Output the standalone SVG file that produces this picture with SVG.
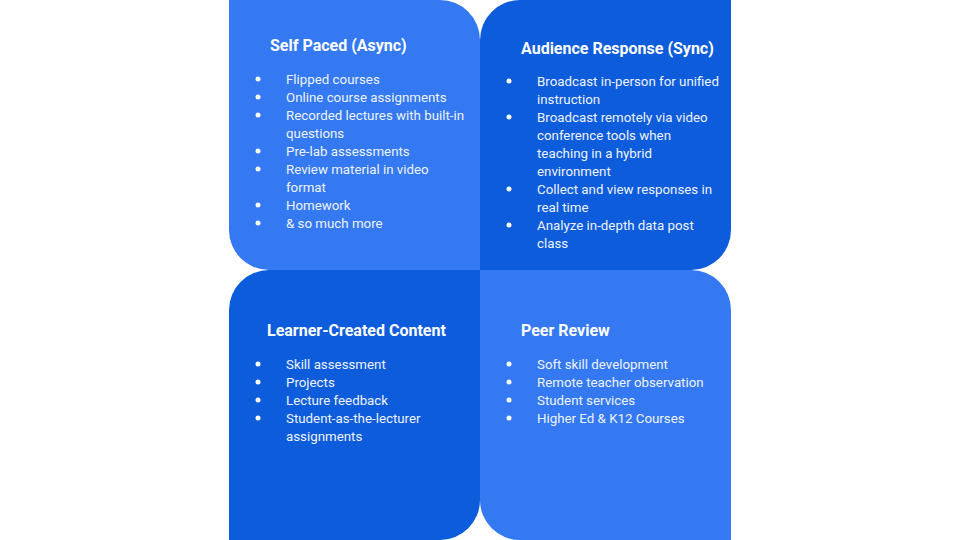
<svg xmlns="http://www.w3.org/2000/svg" width="960" height="540" viewBox="0 0 960 540">
<style>
.light{fill:#3479F1}
.dark{fill:#0D5CDB}
.t{font-family:Roboto,"Liberation Sans",sans-serif;font-weight:bold;font-size:16px;fill:#FFFFFF}
.i{font-family:Roboto,"Liberation Sans",sans-serif;font-size:13.3px;fill:#EEF3FD}
.b{fill:#FFFFFF}
</style>
<rect width="960" height="540" fill="#FFFFFF"/>
<g id="self-paced">
<path class="light" d="M229,0 H440 A40,40 0 0 1 480,40 V270 H269 A40,40 0 0 1 229,230 Z"/>
<text class="t" x="270" y="51">Self Paced (Async)</text>
<g class="i">
<text x="286" y="83.5">Flipped courses</text>
<text x="286" y="101.5">Online course assignments</text>
<text x="286" y="119.5">Recorded lectures with built-in</text>
<text x="286" y="137.5">questions</text>
<text x="286" y="155.5">Pre-lab assessments</text>
<text x="286" y="173.5">Review material in video</text>
<text x="286" y="191.5">format</text>
<text x="286" y="209.5">Homework</text>
<text x="286" y="227.5">&amp; so much more</text>
</g>
<g class="b">
<circle cx="258" cy="79" r="2.5"/><circle cx="258" cy="97" r="2.5"/><circle cx="258" cy="115" r="2.5"/><circle cx="258" cy="151" r="2.5"/><circle cx="258" cy="169" r="2.5"/><circle cx="258" cy="205" r="2.5"/><circle cx="258" cy="223" r="2.5"/>
</g>
</g>
<g id="audience-response">
<path class="dark" d="M520,0 H731 V230 A40,40 0 0 1 691,270 H480 V40 A40,40 0 0 1 520,0 Z"/>
<text class="t" x="521" y="54">Audience Response (Sync)</text>
<g class="i">
<text x="537" y="85.5">Broadcast in-person for unified</text>
<text x="537" y="103.5">instruction</text>
<text x="537" y="121.5">Broadcast remotely via video</text>
<text x="537" y="139.5">conference tools when</text>
<text x="537" y="157.5">teaching in a hybrid</text>
<text x="537" y="175.5">environment</text>
<text x="537" y="193.5">Collect and view responses in</text>
<text x="537" y="211.5">real time</text>
<text x="537" y="229.5">Analyze in-depth data post</text>
<text x="537" y="247.5">class</text>
</g>
<g class="b">
<circle cx="509" cy="81" r="2.5"/><circle cx="509" cy="117" r="2.5"/><circle cx="509" cy="189" r="2.5"/><circle cx="509" cy="225" r="2.5"/>
</g>
</g>
<g id="learner-created">
<path class="dark" d="M269,270 H480 V500 A40,40 0 0 1 440,540 H229 V310 A40,40 0 0 1 269,270 Z"/>
<text class="t" x="267" y="336">Learner-Created Content</text>
<g class="i">
<text x="286" y="368.5">Skill assessment</text>
<text x="286" y="386.5">Projects</text>
<text x="286" y="404.5">Lecture feedback</text>
<text x="286" y="422.5">Student-as-the-lecturer</text>
<text x="286" y="440.5">assignments</text>
</g>
<g class="b">
<circle cx="258" cy="364" r="2.5"/><circle cx="258" cy="382" r="2.5"/><circle cx="258" cy="400" r="2.5"/><circle cx="258" cy="418" r="2.5"/>
</g>
</g>
<g id="peer-review">
<path class="light" d="M480,270 H691 A40,40 0 0 1 731,310 V540 H520 A40,40 0 0 1 480,500 Z"/>
<text class="t" x="521" y="336">Peer Review</text>
<g class="i">
<text x="537" y="368.5">Soft skill development</text>
<text x="537" y="386.5">Remote teacher observation</text>
<text x="537" y="404.5">Student services</text>
<text x="537" y="422.5">Higher Ed &amp; K12 Courses</text>
</g>
<g class="b">
<circle cx="509" cy="364" r="2.5"/><circle cx="509" cy="382" r="2.5"/><circle cx="509" cy="400" r="2.5"/><circle cx="509" cy="418" r="2.5"/>
</g>
</g>
<g id="connectors"/>
</svg>
